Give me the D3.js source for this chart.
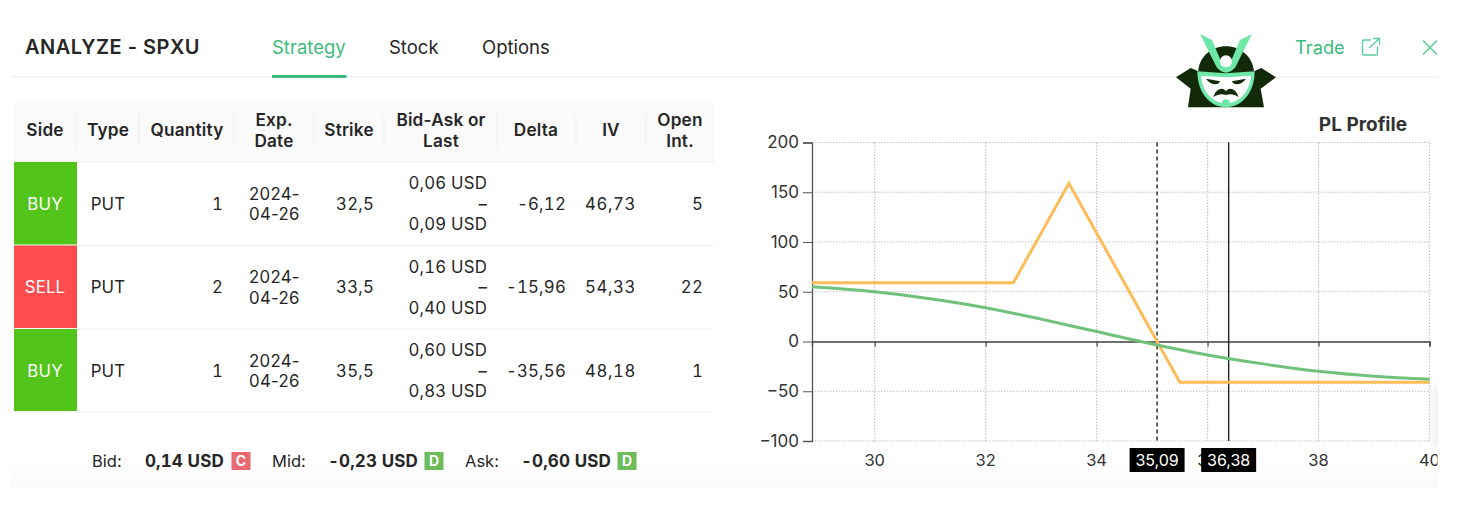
<!DOCTYPE html>
<html>
<head>
<meta charset="utf-8">
<script src="https://cdn.jsdelivr.net/npm/d3@7"></script>
<style>
  html, body { margin: 0; padding: 0; background: #fff; }
  svg { display: block; font-family: Inter, "Noto Sans", sans-serif; }
  .num { font-variant-numeric: tabular-nums; }
</style>
</head>
<body>
<svg id="page" width="1470" height="512"></svg>
<script>
// ===== DATA =====
const tabs = ["Strategy", "Stock", "Options"];
const headers = [["Side"], ["Type"], ["Quantity"], ["Exp.", "Date"], ["Strike"], ["Bid-Ask or", "Last"], ["Delta"], ["IV"], ["Open", "Int."]];
const sides = ["BUY", "SELL", "BUY"];
const types = ["PUT", "PUT", "PUT"];
const quantities = ["1", "2", "1"];
const expDates = [["2024-", "04-26"], ["2024-", "04-26"], ["2024-", "04-26"]];
const strikes = ["32,5", "33,5", "35,5"];
const bidAsk = [["0,06 USD", "–", "0,09 USD"], ["0,16 USD", "–", "0,40 USD"], ["0,60 USD", "–", "0,83 USD"]];
const deltas = ["-6,12", "-15,96", "-35,56"];
const ivs = ["46,73", "54,33", "48,18"];
const openInts = ["5", "22", "1"];

const summaryLabels = ["Bid:", "Mid:", "Ask:"];
const summaryValues = ["0,14 USD", "-0,23 USD", "-0,60 USD"];
const summaryBadges = ["C", "D", "D"];

const xTicks = [30, 32, 34, 36, 38, 40];
const yTicks = [200, 150, 100, 50, 0, -50, -100];
const expiryX = [28.87, 32.5, 33.5, 35.5, 40];
const expiryY = [59, 59, 159, -41, -41];
const todayX = [28.87, 30, 31, 32, 33, 34, 35, 36, 37, 38, 39, 40];
const todayY = [55, 50, 43, 34, 22.5, 10, -2.5, -13.5, -22.5, -30, -35, -38];
const breakEven = 35.09;
const current = 36.38;

// ===== PAGE CHROME =====
const svg = d3.select("#page");
const ink = "#262626";
const green = "#3dbb7c";

// Gradients for the footer band and the soft shade at the right edge
const defs = svg.append("defs");
const fade = defs.append("linearGradient").attr("id", "footerFade").attr("x1", 0).attr("x2", 0).attr("y1", 0).attr("y2", 1);
fade.append("stop").attr("offset", 0).attr("stop-color", "#fff");
fade.append("stop").attr("offset", 1).attr("stop-color", "#f9f9f9");
const shade = defs.append("linearGradient").attr("id", "edgeFade").attr("x1", 0).attr("x2", 1).attr("y1", 0).attr("y2", 0);
shade.append("stop").attr("offset", 0).attr("stop-color", "#fff");
shade.append("stop").attr("offset", 1).attr("stop-color", "#f2f2f2");

svg.append("rect").attr("x", 11).attr("y", 462).attr("width", 1427).attr("height", 26).attr("fill", "url(#footerFade)");
svg.append("rect").attr("x", 1428).attr("y", 385).attr("width", 10).attr("height", 62).attr("fill", "url(#edgeFade)");
svg.append("line").attr("x1", 11).attr("x2", 1438).attr("y1", 77).attr("y2", 77).attr("stroke", "#f0f0f0").attr("stroke-width", 1.5);

svg.append("text").attr("x", 25).attr("y", 54).attr("font-size", 20).attr("font-weight", 600)
    .attr("letter-spacing", 0.5).attr("fill", ink).text("ANALYZE - SPXU");

const tabX = [272, 389, 482];
svg.selectAll(".tab").data(tabs).enter().append("text")
    .attr("x", (d, i) => tabX[i]).attr("y", 54)
    .attr("font-size", 18.5)
    .attr("fill", (d, i) => i == 0 ? green : ink)
    .text(d => d);
svg.append("rect").attr("x", 272).attr("y", 75).attr("width", 74.5).attr("height", 3).attr("fill", green);

svg.append("text").attr("x", 1295).attr("y", 54).attr("font-size", 18.3).attr("fill", green).text("Trade");

// Open-in-new icon
const chrome = svg.append("g").attr("fill", "none").attr("stroke", "#5fce9a").attr("stroke-width", 1.4);
chrome.append("path").attr("d", "M1371 40h-7a1.5 1.5 0 0 0-1.5 1.5v12a1.5 1.5 0 0 0 1.5 1.5h12a1.5 1.5 0 0 0 1.5-1.5v-7");
chrome.append("path").attr("d", "M1369 48L1379.5 38.5M1373 38.5h6.5v6.5");
// Close icon
chrome.append("path").attr("d", "M1423 40.5L1437 54.5M1437 40.5L1423 54.5").attr("stroke-width", 1.6);

// ===== LOGO =====
const logoDark = "#12290a", logoMint = "#6ee7a8";
const logo = svg.append("g").attr("transform", "translate(1170,28) scale(0.3333)");
logo.append("path").attr("fill", logoDark)
    .attr("d", "M54 238L62 182L18 148L62 120L85 130C88 85 125 55 168 55C210 55 248 85 252 130L274 120L318 148L272 182L282 238Z");
logo.append("path").attr("fill", logoMint)
    .attr("d", "M82 130L168 136L254 130C254 195 215 238 168 238C121 238 82 195 82 130Z");
logo.append("path").attr("fill", "#fff")
    .attr("d", "M93 143L168 148L243 143C240 190 208 226 168 226C128 226 96 190 93 143Z");
logo.append("path").attr("fill", logoDark).attr("d", "M108 152L150 160C146 173 122 173 108 152Z");
logo.append("path").attr("fill", logoDark).attr("d", "M228 152L186 160C190 173 214 173 228 152Z");
logo.append("path").attr("fill", logoDark)
    .attr("d", "M130 208C138 180 160 176 168 190C176 176 198 180 206 208C192 197 178 198 168 201C158 198 144 197 130 208Z");
logo.append("circle").attr("cx", 168).attr("cy", 226).attr("r", 12).attr("fill", logoMint);
logo.append("path").attr("fill", logoMint)
    .attr("d", "M90 18L126 36L150 92A20 20 0 0 0 186 92L210 36L246 18L196 118Q168 150 140 118Z");
logo.append("circle").attr("cx", 168).attr("cy", 100).attr("r", 18).attr("fill", "#fff");

// ===== TABLE =====
const table = svg.append("g");
const colEdges = [14, 76, 139, 234, 314, 384, 497, 576, 646, 714];
const rowEdges = [162, 245.5, 329, 412];
const headerCx = [45, 108, 187, 274, 349, 441, 536, 611, 680];
const bodySize = 16.8;

table.append("rect").attr("x", 14).attr("y", 100).attr("width", 700).attr("height", 62).attr("fill", "#fafafa");
table.append("line").attr("x1", 14).attr("x2", 714).attr("y1", 162).attr("y2", 162).attr("stroke", "#f0f0f0");

table.selectAll(".sep").data(colEdges.slice(1, -1)).enter().append("line")
    .attr("x1", d => d).attr("x2", d => d).attr("y1", 114).attr("y2", 148)
    .attr("stroke", "#efefef");

headers.forEach((lines, i) => {
    const top = lines.length == 1 ? 136 : 126;
    lines.forEach((l, j) => {
        table.append("text").attr("x", headerCx[i]).attr("y", top + j * 20.5)
            .attr("text-anchor", "middle").attr("font-size", 17.2).attr("font-weight", 600)
            .attr("letter-spacing", 0.2).attr("fill", ink).text(l);
    });
});

sides.forEach((side, r) => {
    const y0 = rowEdges[r], y1 = rowEdges[r + 1], cy = (y0 + y1) / 2;
    table.append("rect").attr("x", 14).attr("y", y0).attr("width", 63).attr("height", y1 - y0 - 1)
        .attr("fill", side == "BUY" ? "#52c41a" : "#ff4d4f");
    table.append("line").attr("x1", 14).attr("x2", 714).attr("y1", y1).attr("y2", y1).attr("stroke", "#f0f0f0");

    const cell = (xPos, str, anchor, fill, spacing) => table.append("text").attr("class", "num").attr("x", xPos).attr("y", cy + 6)
        .attr("text-anchor", anchor).attr("font-size", bodySize).attr("letter-spacing", spacing || 0.2)
        .attr("fill", fill || ink).text(str);

    cell(45, side, "middle", "#fff");
    cell(108, types[r], "middle");
    cell(223, quantities[r], "end");
    cell(374, strikes[r], "end");
    cell(566, deltas[r], "end", ink, 0.2);
    cell(636, ivs[r], "end", ink, 0.6);
    cell(703, openInts[r], "end");

    expDates[r].forEach((l, j) => {
        table.append("text").attr("x", 249).attr("y", cy - 4 + j * 20.5).attr("font-size", bodySize)
            .attr("letter-spacing", 0.3).attr("fill", ink).text(l);
    });
    bidAsk[r].forEach((l, j) => {
        table.append("text").attr("class", "num").attr("x", 487).attr("y", cy - 14.5 + j * 20.5).attr("text-anchor", "end").attr("font-size", bodySize)
            .attr("letter-spacing", 0.2).attr("fill", ink).text(l);
    });
});

// ===== SUMMARY =====
const labelX = [92, 272, 465];
const valueX = [145, 328, 521];
const badgeX = [231.5, 424.5, 617.5];
summaryLabels.forEach((l, i) => {
    svg.append("text").attr("x", labelX[i]).attr("y", 467).attr("font-size", 16.5).attr("fill", ink).text(l);
    svg.append("text").attr("class", "num").attr("x", valueX[i]).attr("y", 467).attr("font-size", 17).attr("font-weight", 700)
        .attr("letter-spacing", 0.1).attr("fill", ink).text(summaryValues[i]);
    svg.append("rect").attr("x", badgeX[i]).attr("y", 452).attr("width", 19).attr("height", 18)
        .attr("fill", summaryBadges[i] == "C" ? "#e96b72" : "#6dbb59");
    svg.append("text").attr("x", badgeX[i] + 9.5).attr("y", 466).attr("text-anchor", "middle")
        .attr("font-size", 14).attr("font-weight", 700).attr("fill", "#fff").text(summaryBadges[i]);
});

// ===== PL CHART =====
const x = d3.scaleLinear().domain([28.87, 40]).range([812, 1429.5]);
const y = d3.scaleLinear().domain([-100, 200]).range([441, 142.5]);
const plot = svg.append("g");

svg.append("text").attr("x", 1407).attr("y", 131).attr("text-anchor", "end")
    .attr("font-size", 19).attr("font-weight", 700).attr("fill", "#333").text("PL Profile");

// Dotted grid
plot.selectAll(".gx").data(xTicks).enter().append("line")
    .attr("x1", d => x(d)).attr("x2", d => x(d)).attr("y1", y(200)).attr("y2", y(-100))
    .attr("stroke", "#c4c4c4").attr("stroke-width", 1.2).attr("stroke-dasharray", "1.5 1.5");
plot.selectAll(".gy").data(yTicks).enter().append("line")
    .attr("x1", x(28.87)).attr("x2", x(40)).attr("y1", d => y(d)).attr("y2", d => y(d))
    .attr("stroke", "#c4c4c4").attr("stroke-width", 1.2).attr("stroke-dasharray", "1.5 1.5");

// Left axis
const yAxis = d3.axisLeft(y).tickValues(yTicks).tickSize(9).tickPadding(4);
const yG = plot.append("g").attr("transform", `translate(${x(28.87)},0)`).call(yAxis);
yG.select(".domain").attr("stroke", "#555").attr("stroke-width", 1.3);
yG.selectAll(".tick line").attr("stroke", "#555");
yG.selectAll("text").attr("font-size", 17).attr("fill", "#333").attr("font-family", "Inter, sans-serif");

// Zero axis, ticks hang below it
const xAxis = d3.axisBottom(x).tickValues(xTicks).tickSize(5).tickFormat("");
const xG = plot.append("g").attr("transform", `translate(0,${y(0)})`).call(xAxis);
xG.select(".domain").attr("stroke", "#444").attr("stroke-width", 1.3);
xG.selectAll(".tick line").attr("stroke", "#444").attr("stroke-width", 1.2);

// Tick labels along the bottom
plot.selectAll(".xl").data(xTicks).enter().append("text")
    .attr("x", d => x(d)).attr("y", 466).attr("text-anchor", "middle")
    .attr("font-size", 16.5).attr("fill", "#333").text(d => d);
svg.append("rect").attr("x", 1437.5).attr("y", 450).attr("width", 20).attr("height", 22).attr("fill", "#fff");

// Marker lines
plot.append("line").attr("x1", x(breakEven)).attr("x2", x(breakEven)).attr("y1", y(200)).attr("y2", y(-100))
    .attr("stroke", "#222").attr("stroke-width", 1.4).attr("stroke-dasharray", "4 3");
plot.append("line").attr("x1", x(current)).attr("x2", x(current)).attr("y1", y(200)).attr("y2", y(-100))
    .attr("stroke", "#222").attr("stroke-width", 1.4);

// Curves
const line = d3.line().x(d => x(d[0])).y(d => y(d[1]));
plot.append("path").attr("d", line(d3.zip(expiryX, expiryY)))
    .attr("fill", "none").attr("stroke", "#fdbc57").attr("stroke-width", 3);
plot.append("path").attr("d", line.curve(d3.curveMonotoneX)(d3.zip(todayX, todayY)))
    .attr("fill", "none").attr("stroke", "#70c17a").attr("stroke-width", 3);

// Marker labels
[breakEven, current].forEach(v => {
    const cx = x(v);
    plot.append("rect").attr("x", cx - 27.5).attr("y", 448).attr("width", 55).attr("height", 24).attr("fill", "#000");
    plot.append("text").attr("x", cx).attr("y", 466).attr("text-anchor", "middle")
        .attr("font-size", 16).attr("fill", "#fff").text(v.toFixed(2).replace(".", ","));
});
</script>
</body>
</html>
